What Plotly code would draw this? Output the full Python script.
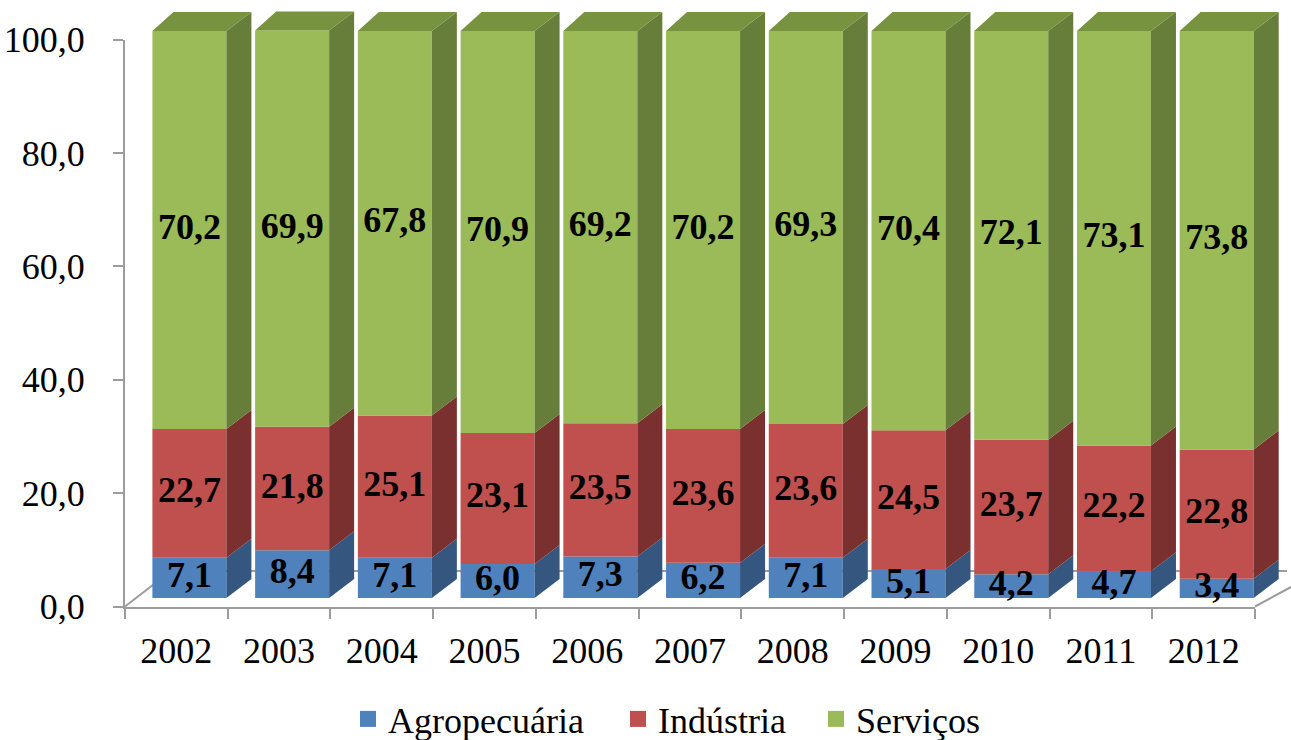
import numpy as np
import plotly.graph_objects as go

# ---------------- data ----------------
years = ["2002", "2003", "2004", "2005", "2006", "2007", "2008", "2009", "2010", "2011", "2012"]
agropecuaria = [7.1, 8.4, 7.1, 6.0, 7.3, 6.2, 7.1, 5.1, 4.2, 4.7, 3.4]
industria = [22.7, 21.8, 25.1, 23.1, 23.5, 23.6, 23.6, 24.5, 23.7, 22.2, 22.8]
servicos = [70.2, 69.9, 67.8, 70.9, 69.2, 70.2, 69.3, 70.4, 72.1, 73.1, 73.8]
series_names = ["Agropecuária", "Indústria", "Serviços"]
y_ticks = [0, 20, 40, 60, 80, 100]

# ---------------- styling / geometry ----------------
W, H = 1291, 740
FONT = "Liberation Serif"
front_colors = ["#4F81BD", "#C0504D", "#9BBB59"]
side_colors = ["#35577F", "#7B3030", "#677E3B"]
top_color = "#77933F"
grey = "#9C9C9C"

X0, XS = 189.4, 102.73      # px of first front-face centre, px per category
Y0, YS = 598.0, 5.67        # px of value 0 on the front face, px per unit
AX_L, AX_R, AX_B = 125.0, 1255.0, 606.5
AX_T = AX_B - 100 * YS

bar_w = 74 / XS
dx_side = 25 / XS
dx_top_left = 21 / XS
dy = 19 / YS

xr_main = [(0 - X0) / XS, (W - X0) / XS]
yr_main = [(Y0 - H) / YS, Y0 / YS]

legend_left_px = [348, 618, 816]   # legend box positions (px)
legend_mid_px = 719

n = len(years)
xs = np.arange(n, dtype=float)
vals = [np.array(agropecuaria), np.array(industria), np.array(servicos)]
bases = [np.zeros(n), vals[0], vals[0] + vals[1]]
totals = vals[0] + vals[1] + vals[2]

fig = go.Figure()

# front faces
for i in range(3):
    fig.add_trace(go.Bar(
        x=xs, y=vals[i], base=bases[i], width=bar_w,
        marker=dict(color=front_colors[i], line=dict(width=0)),
        name=series_names[i], showlegend=False, hoverinfo="skip",
        xaxis="x", yaxis="y",
    ))

# side faces
for i in range(3):
    px_, py_ = [], []
    for k in range(n):
        xr = xs[k] + bar_w / 2
        b = bases[i][k]
        t = b + vals[i][k]
        px_ += [xr, xr + dx_side, xr + dx_side, xr, xr, None]
        py_ += [b, b + dy, t + dy, t, b, None]
    fig.add_trace(go.Scatter(
        x=px_, y=py_, mode="lines", fill="toself", fillcolor=side_colors[i],
        line=dict(width=0, color=side_colors[i]), showlegend=False, hoverinfo="skip",
        xaxis="x", yaxis="y",
    ))

# top faces
tx, ty = [], []
for k in range(n):
    xl = xs[k] - bar_w / 2
    xr = xs[k] + bar_w / 2
    t = totals[k]
    tx += [xl, xl + dx_top_left, xr + dx_side, xr, xl, None]
    ty += [t, t + dy, t + dy, t, t, None]
fig.add_trace(go.Scatter(
    x=tx, y=ty, mode="lines", fill="toself", fillcolor=top_color,
    line=dict(width=0, color=top_color), showlegend=False, hoverinfo="skip",
    xaxis="x", yaxis="y",
))

# data labels
for i in range(3):
    mids = bases[i] + vals[i] / 2
    fig.add_trace(go.Scatter(
        x=xs, y=mids, mode="text",
        text=[f"{v:.1f}".replace(".", ",") for v in vals[i]],
        textposition="middle center",
        textfont=dict(family=FONT, size=36, color="black", weight="bold"),
        showlegend=False, hoverinfo="skip", cliponaxis=False,
        xaxis="x", yaxis="y",
    ))

# legend entries (one legend per series so each can be placed like the original)
legend_ids = ["legend", "legend2", "legend3"]
for i in range(3):
    fig.add_trace(go.Scatter(
        x=[None], y=[None], mode="markers", name=series_names[i],
        marker=dict(symbol="square", size=18, color=front_colors[i]),
        showlegend=True, legend=legend_ids[i], xaxis="x", yaxis="y",
    ))

# invisible trace for the visible category / value axes
fig.add_trace(go.Scatter(
    x=years, y=[0] * n, mode="markers", marker=dict(opacity=0),
    showlegend=False, hoverinfo="skip", xaxis="x2", yaxis="y2",
))

# floor lines (decoration)
def P(x, y):
    return x / W, 1 - y / H

floor = [((AX_L, AX_B), (171, 571)), ((171, 571), (1287, 571)), ((AX_R, AX_B), (1291, 587))]
for (a, b) in floor:
    x0, y0 = P(*a)
    x1, y1 = P(*b)
    fig.add_shape(type="line", xref="paper", yref="paper", x0=x0, y0=y0, x1=x1, y1=y1,
                  line=dict(color=grey, width=2), layer="below")

legend_common = dict(
    orientation="h", yanchor="middle", xanchor="left",
    font=dict(family=FONT, size=36, color="black"), bgcolor="rgba(0,0,0,0)",
    itemclick=False, itemdoubleclick=False, borderwidth=0,
)
legends = {}
for i, lid in enumerate(legend_ids):
    legends[lid] = dict(legend_common, x=legend_left_px[i] / W, y=(H - legend_mid_px) / H)

fig.update_layout(
    width=W, height=H,
    margin=dict(l=0, r=0, t=0, b=0, autoexpand=False),
    paper_bgcolor="white", plot_bgcolor="rgba(0,0,0,0)",
    barmode="overlay",
    separators=",.",
    font=dict(family=FONT, size=36, color="black"),
    xaxis=dict(domain=[0, 1], range=xr_main, visible=False, fixedrange=True),
    yaxis=dict(domain=[0, 1], range=yr_main, visible=False, fixedrange=True),
    xaxis2=dict(
        domain=[AX_L / W, AX_R / W], anchor="y2", type="category",
        categoryorder="array", categoryarray=years, range=[-0.5, n - 0.5],
        tickson="boundaries", ticks="outside", ticklen=10, tickwidth=2, tickcolor=grey,
        showline=True, linecolor=grey, linewidth=2, showgrid=False, zeroline=False,
        tickfont=dict(family=FONT, size=36, color="black"), ticklabelstandoff=11,
        automargin=False, fixedrange=True,
    ),
    yaxis2=dict(
        domain=[(H - AX_B) / H, (H - AX_T) / H], anchor="x2", range=[0, 100],
        tickvals=y_ticks, tickformat=".1f", ticks="outside", ticklen=10, tickwidth=2,
        tickcolor=grey, showline=True, linecolor=grey, linewidth=2, showgrid=False,
        zeroline=False, tickfont=dict(family=FONT, size=36, color="black"),
        ticklabelstandoff=21, automargin=False, fixedrange=True,
    ),
    showlegend=True,
    **legends,
)

fig.write_html(
    "out.html",
    config={"displayModeBar": False},
    post_script="document.body.style.margin='0';document.body.style.overflow='hidden';",
)
